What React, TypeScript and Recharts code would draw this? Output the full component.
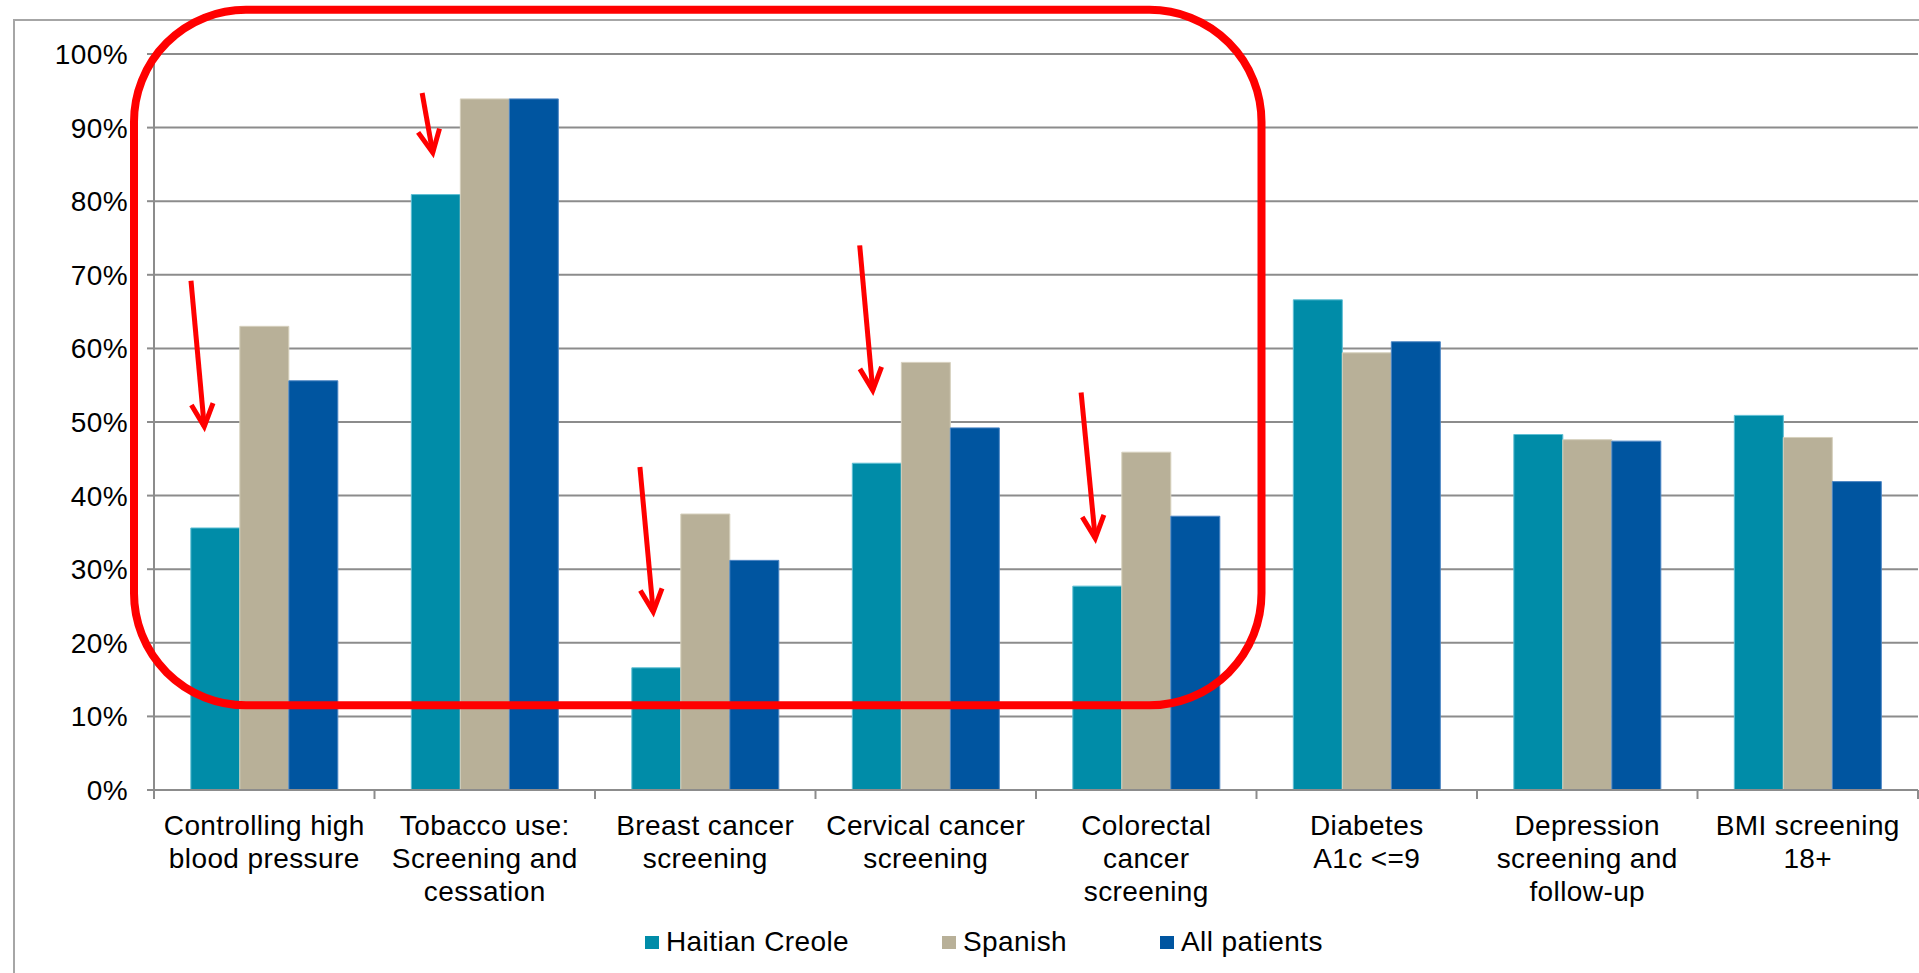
import {
  BarChart,
  Bar,
  XAxis,
  YAxis,
  CartesianGrid,
  Legend,
  ReferenceArea,
  ReferenceLine,
} from "recharts";

const categories = [
  "Controlling high\nblood pressure",
  "Tobacco use:\nScreening and\ncessation",
  "Breast cancer\nscreening",
  "Cervical cancer\nscreening",
  "Colorectal\ncancer\nscreening",
  "Diabetes\nA1c <=9",
  "Depression\nscreening and\nfollow-up",
  "BMI screening\n18+",
];

const haitianCreole = [35.6, 80.9, 16.6, 44.4, 27.7, 66.6, 48.3, 50.9];
const spanish = [63.0, 93.9, 37.5, 58.1, 45.9, 59.4, 47.6, 47.9];
const allPatients = [55.6, 93.9, 31.2, 49.2, 37.2, 60.9, 47.4, 41.9];

const seriesNames = ["Haitian Creole", "Spanish", "All patients"];

const percentTicks = [0, 10, 20, 30, 40, 50, 60, 70, 80, 90, 100];

// red call-outs over the first five measures (values in %)
const arrows = [
  { category: 0, from: 69.2, to: 49.4, shift: -60, lean: 0.091 },
  { category: 1, from: 94.7, to: 86.6, shift: -52, lean: 0.178 },
  { category: 2, from: 43.9, to: 24.2, shift: -52, lean: 0.092 },
  { category: 3, from: 74.0, to: 54.3, shift: -53, lean: 0.09 },
  { category: 4, from: 54.0, to: 34.2, shift: -51, lean: 0.097 },
];
const highlight = { from: 0, to: 4, bottom: 11.5, top: 106 };

const data = categories.map((name, i) => ({
  name,
  haitian: haitianCreole[i],
  spanish: spanish[i],
  all: allPatients[i],
}));

const FONT = '"Liberation Sans", Arial, sans-serif';
const GRID = "#8c8c8c";
const RED = "#ff0000";

const CategoryTick = (props: any) => {
  const { x, y, payload, index } = props;
  const half = payload.offset ? payload.offset : 110.25;
  const lines = String(payload.value).split("\n");
  return (
    <g>
      <line x1={x - half} x2={x - half} y1={y} y2={y + 9} stroke={GRID} strokeWidth={2} />
      {index === categories.length - 1 && (
        <line x1={x + half} x2={x + half} y1={y} y2={y + 9} stroke={GRID} strokeWidth={2} />
      )}
      <text
        x={x}
        y={y + 45}
        textAnchor="middle"
        fill="#000"
        fontSize={28}
        fontFamily={FONT}
        letterSpacing={0.4}
      >
        {lines.map((line, i) => (
          <tspan key={i} x={x} dy={i === 0 ? 0 : 33}>
            {line}
          </tspan>
        ))}
      </text>
    </g>
  );
};

const makeArrow = (shift: number, lean: number) => (props: any) => {
  const { x1, y1, y2 } = props;
  const tipX = x1 + shift;
  const tailX = tipX - lean * (y2 - y1);
  const angle = Math.atan2(y2 - y1, tipX - tailX);
  const wing = 25;
  const spread = 0.45;
  const wx1 = tipX - wing * Math.cos(angle - spread);
  const wy1 = y2 - wing * Math.sin(angle - spread);
  const wx2 = tipX - wing * Math.cos(angle + spread);
  const wy2 = y2 - wing * Math.sin(angle + spread);
  return (
    <g>
      <line x1={tailX} y1={y1} x2={tipX} y2={y2} stroke={RED} strokeWidth={5} />
      <polyline
        points={`${wx1},${wy1} ${tipX},${y2} ${wx2},${wy2}`}
        fill="none"
        stroke={RED}
        strokeWidth={5}
        strokeLinejoin="miter"
      />
    </g>
  );
};

const HighlightBox = (props: any) => {
  const { x, y, width, height } = props;
  const left = x - 20;
  const right = x + width + 5;
  return (
    <rect
      x={left}
      y={y}
      width={right - left}
      height={height}
      rx={112}
      ry={112}
      fill="none"
      stroke={RED}
      strokeWidth={8}
    />
  );
};

// legend keeps the series order instead of the default alphabetical sort
const LegendContent = (props: any) => {
  const { payload } = props;
  const ordered = [...payload].sort(
    (a: any, b: any) => seriesNames.indexOf(a.value) - seriesNames.indexOf(b.value)
  );
  return (
    <div
      style={{
        display: "flex",
        alignItems: "center",
        fontFamily: FONT,
        fontSize: 28,
        letterSpacing: 0.4,
        color: "#000",
      }}
    >
      {ordered.map((entry: any, i: number) => (
        <div
          key={entry.value}
          style={{ display: "flex", alignItems: "center", marginLeft: i ? 93 : 0 }}
        >
          <span
            style={{
              display: "inline-block",
              width: 14,
              height: 13,
              background: entry.color,
              marginRight: 7,
            }}
          />
          <span>{entry.value}</span>
        </div>
      ))}
    </div>
  );
};

const App = () => {
  return (
    <div
      style={{
        position: "absolute",
        left: 0,
        top: 0,
        width: 1919,
        height: 973,
        background: "#fff",
        overflow: "hidden",
      }}
    >
      <div
        style={{
          position: "absolute",
          left: 13,
          top: 19,
          right: 0,
          bottom: 0,
          borderLeft: "2px solid #a6a6a6",
          borderTop: "2px solid #a6a6a6",
        }}
      />
      <BarChart
        width={1919}
        height={973}
        data={data}
        margin={{ top: 54, right: 1, bottom: 0, left: 0 }}
        barCategoryGap="16.7%"
        barGap={0}
        style={{ position: "absolute", left: 0, top: 0 }}
      >
        <CartesianGrid vertical={false} stroke={GRID} strokeWidth={2} />
        <XAxis
          dataKey="name"
          height={183}
          interval={0}
          tickSize={0}
          tickMargin={0}
          tickLine={false}
          axisLine={{ stroke: GRID, strokeWidth: 2 }}
          tick={<CategoryTick />}
        />
        <YAxis
          width={154}
          domain={[0, 100]}
          ticks={percentTicks}
          interval={0}
          tickSize={7}
          tickMargin={19}
          tickFormatter={(v: number) => `${v}%`}
          tick={{ fontSize: 28, fill: "#000", fontFamily: FONT, letterSpacing: 0.4 }}
          tickLine={{ stroke: GRID, strokeWidth: 2 }}
          axisLine={{ stroke: GRID, strokeWidth: 2 }}
        />
        <Legend
          layout="horizontal"
          verticalAlign="middle"
          align="center"
          wrapperStyle={{ top: 926, left: 645, width: "auto" }}
          content={<LegendContent />}
        />
        <Bar
          dataKey="haitian"
          name={seriesNames[0]}
          fill="#008ca8"
          stroke="#5fbfd4"
          strokeWidth={1}
          isAnimationActive={false}
        />
        <Bar
          dataKey="spanish"
          name={seriesNames[1]}
          fill="#b8b098"
          stroke="#d6d0bd"
          strokeWidth={1}
          isAnimationActive={false}
        />
        <Bar
          dataKey="all"
          name={seriesNames[2]}
          fill="#0055a0"
          stroke="#4d86c4"
          strokeWidth={1}
          isAnimationActive={false}
        />
        <ReferenceArea
          x1={categories[highlight.from]}
          x2={categories[highlight.to]}
          y1={highlight.bottom}
          y2={highlight.top}
          ifOverflow="visible"
          shape={HighlightBox}
          zIndex={2500}
        />
        {arrows.map((a) => (
          <ReferenceLine
            key={a.category}
            segment={[
              { x: categories[a.category], y: a.from },
              { x: categories[a.category], y: a.to },
            ]}
            ifOverflow="visible"
            shape={makeArrow(a.shift, a.lean)}
            zIndex={2500}
          />
        ))}
      </BarChart>
    </div>
  );
};

export default App;
